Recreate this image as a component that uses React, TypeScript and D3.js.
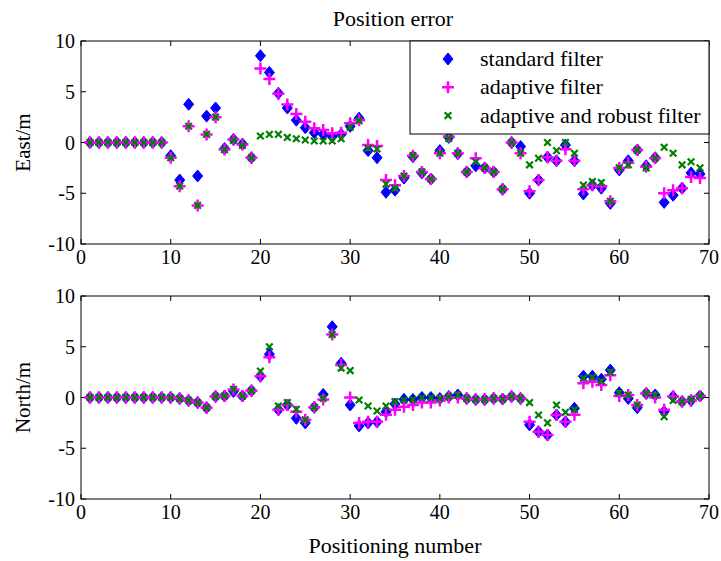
import React from "react";
import * as d3 from "d3";

const positions = d3.range(1, 70);

const eastStandard = [0,0,0,0,0,0,0,0,0,-1.3,-3.7,3.76,-3.3,2.6,3.4,-0.6,0.3,-0.15,-1.5,8.55,6.9,4.85,3.4,2.2,1.46,0.97,0.8,0.57,0.8,1.6,2.4,-0.8,-1.5,-4.9,-4.7,-3.5,-1.4,-3.0,-3.6,-0.8,0.5,-1.1,-2.9,-2.3,-2.5,-2.9,-4.6,0.0,-0.4,-5.0,-3.7,-1.45,-1.8,-0.25,-1.8,-5.07,-4.2,-4.5,-6.0,-2.7,-1.8,-0.74,-2.3,-1.5,-5.9,-5.2,-4.5,-3.0,-3.1];
const eastAdaptive = [0,0,0,0,0,0,0,0,0,-1.5,-4.3,1.6,-6.2,0.8,2.5,-0.7,0.3,-0.2,-1.5,7.3,6.25,4.8,3.75,2.8,2.05,1.4,1.23,0.9,0.97,1.9,2.2,-0.25,-0.35,-3.7,-4.2,-3.3,-1.3,-2.9,-3.6,-1.06,0.6,-1.07,-2.9,-1.55,-2.5,-2.9,-4.6,0.0,-1.06,-4.8,-3.7,-1.45,-1.8,-0.67,-1.8,-4.6,-4.2,-4.3,-5.8,-2.5,-2.0,-0.74,-2.4,-1.55,-5.0,-4.7,-4.5,-3.4,-3.5];
const eastRobust = [0,0,0,0,0,0,0,0,0,-1.5,-4.3,1.6,-6.2,0.8,2.5,-0.7,0.2,-0.3,-1.5,0.64,0.8,0.8,0.5,0.37,0.25,0.15,0.15,0.15,0.37,1.5,2.15,-0.57,-0.64,-4.1,-4.5,-3.3,-1.3,-2.9,-3.6,-1.06,0.4,-1.07,-2.9,-1.9,-2.5,-2.9,-4.6,0.0,-1.06,-2.2,-1.55,0.0,-0.8,0.0,-1.06,-4.2,-3.85,-3.95,-5.8,-2.5,-2.2,-0.74,-2.5,-1.55,-0.47,-1.06,-2.2,-1.9,-2.5];

const northStandard = [0,0,0,0,0,0,0,0,0,0,-0.1,-0.3,-0.5,-1.0,0.1,0.15,0.6,0.15,0.67,2.1,4.25,-1.2,-0.74,-2.05,-2.5,-0.97,0.3,6.97,3.37,-0.74,-2.8,-2.5,-2.4,-1.4,-0.64,-0.18,-0.2,0,0,-0.1,0.1,0.25,-0.1,-0.2,-0.2,-0.1,-0.15,0.1,-0.1,-2.7,-3.37,-3.7,-1.72,-2.4,-1.06,2.1,2.1,1.8,2.7,0.47,-0.1,-1.0,0.4,0.25,-1.4,0.1,-0.4,-0.3,0.15];
const northAdaptive = [0,0,0,0,0,0,0,0,0,0,-0.1,-0.3,-0.5,-1.0,0.1,0.15,0.8,0.15,0.67,2.1,3.96,-1.2,-0.74,-1.4,-2.2,-0.97,-0.2,6.2,3.2,0.0,-2.5,-2.4,-2.4,-1.7,-1.2,-0.9,-0.74,-0.5,-0.5,-0.3,0,0,-0.1,-0.2,-0.2,-0.1,-0.15,0.1,-0.1,-2.4,-3.37,-3.7,-1.72,-2.4,-1.7,1.4,1.55,1.23,2.2,0.15,0.25,-0.74,0.4,0.0,-1.2,0.1,-0.4,-0.3,0.15];
const northRobust = [0,0,0,0,0,0,0,0,0,0,-0.1,-0.3,-0.5,-1.0,0.1,0.15,0.8,0.15,0.67,2.6,5.0,-0.84,-0.5,-1.16,-2.2,-0.97,-0.1,6.2,2.9,2.65,-0.25,-0.84,-1.33,-0.84,-0.4,-0.25,-0.2,0,0,-0.1,0.1,0.25,-0.1,-0.2,-0.2,-0.1,-0.15,0.1,-0.1,-0.5,-1.72,-2.5,-0.74,-1.46,-1.2,1.9,2.0,1.6,2.5,0.47,0.25,-0.74,0.4,0.25,-1.9,-0.3,-0.4,-0.2,0.15];

const xTicks = [0, 10, 20, 30, 40, 50, 60, 70];
const yTicks = [-10, -5, 0, 5, 10];
const seriesNames = ["standard filter", "adaptive filter", "adaptive and robust filter"];

const FONT = "'Times New Roman', 'Liberation Serif', serif";
const BLUE = "#0000ff";
const MAGENTA = "#ff00ff";
const GREEN = "#008000";

const X0 = 81, X1 = 709;

function Marker({ kind, x, y }: { kind: number; x: number; y: number }) {
  if (kind === 0) {
    const p = d3.path();
    p.moveTo(x, y - 6); p.lineTo(x + 5, y); p.lineTo(x, y + 6); p.lineTo(x - 5, y); p.closePath();
    return <path d={p.toString()} fill={BLUE} stroke={BLUE} strokeWidth={1} />;
  }
  if (kind === 1) {
    const s = 6;
    return <path d={`M${x - s},${y}L${x + s},${y}M${x},${y - s}L${x},${y + s}`} stroke={MAGENTA} strokeWidth={2.5} />;
  }
  const s = 3.3;
  return <path d={`M${x - s},${y - s}L${x + s},${y + s}M${x - s},${y + s}L${x + s},${y - s}`} stroke={GREEN} strokeWidth={2.2} />;
}

function Panel({ top, bottom, label, series, legend }: { top: number; bottom: number; label: string; series: number[][]; legend?: boolean }) {
  const x = d3.scaleLinear().domain([0, 70]).range([X0, X1]);
  const y = d3.scaleLinear().domain([-10, 10]).range([bottom, top]);
  const tl = 5;
  return (
    <g>
      <rect x={X0} y={top} width={X1 - X0} height={bottom - top} fill="white" />
      {xTicks.map((t) => (
        <g key={"x" + t}>
          <line x1={x(t)} x2={x(t)} y1={bottom} y2={bottom - tl} stroke="black" />
          <line x1={x(t)} x2={x(t)} y1={top} y2={top + tl} stroke="black" />
          <text x={x(t)} y={bottom + 20} textAnchor="middle" fontFamily={FONT} fontSize={20}>{t}</text>
        </g>
      ))}
      {yTicks.map((t) => (
        <g key={"y" + t}>
          <line x1={X0} x2={X0 + tl} y1={y(t)} y2={y(t)} stroke="black" />
          <line x1={X1} x2={X1 - tl} y1={y(t)} y2={y(t)} stroke="black" />
          <text x={X0 - 6} y={y(t) + 7} textAnchor="end" fontFamily={FONT} fontSize={20}>{t}</text>
        </g>
      ))}
      {series.map((vals, k) => (
        <g key={"s" + k}>
          {vals.map((v, i) => (
            <Marker key={i} kind={k} x={x(positions[i])} y={y(v)} />
          ))}
        </g>
      ))}
      <rect x={X0} y={top} width={X1 - X0} height={bottom - top} fill="none" stroke="black" strokeWidth={1} />
      <text transform={`translate(30,${(top + bottom) / 2}) rotate(-90)`} textAnchor="middle" fontFamily={FONT} fontSize={21}>{label}</text>
      {legend && (
        <g>
          <rect x={410} y={top} width={X1 - 410} height={93} fill="white" stroke="black" />
          {seriesNames.map((n, k) => (
            <g key={n}>
              <Marker kind={k} x={448} y={top + 18 + k * 28.3} />
              <text x={480} y={top + 18 + k * 28.3 + 7} fontFamily={FONT} fontSize={22}>{n}</text>
            </g>
          ))}
        </g>
      )}
    </g>
  );
}

export default function App() {
  return (
    <svg width={721} height={561} style={{ display: "block", position: "absolute", left: 0, top: 0 }}>
      <rect width={721} height={561} fill="white" />
      <text x={393} y={26} textAnchor="middle" fontFamily={FONT} fontSize={22}>Position error</text>
      <Panel top={41} bottom={244} label="East/m" series={[eastStandard, eastAdaptive, eastRobust]} legend />
      <Panel top={296} bottom={499} label="North/m" series={[northStandard, northAdaptive, northRobust]} />
      <text x={395} y={553} textAnchor="middle" fontFamily={FONT} fontSize={22}>Positioning number</text>
    </svg>
  );
}
